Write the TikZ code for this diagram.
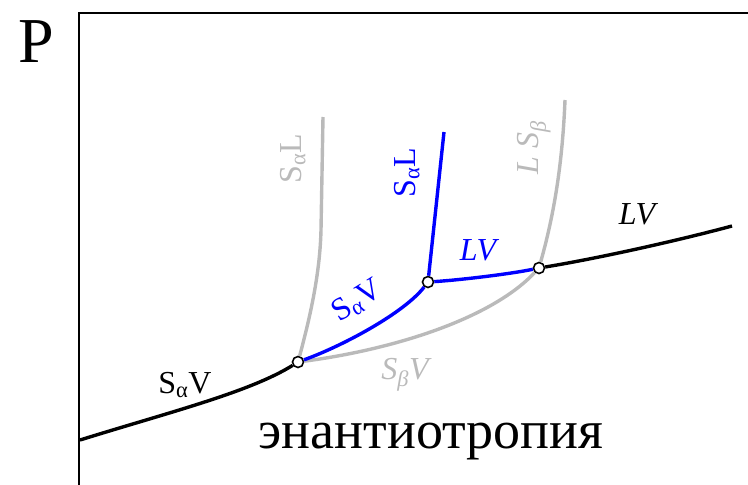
\documentclass[tikz,border=0pt]{standalone}
\usepackage{fontspec}
\setmainfont{Liberation Serif}
\begin{document}
\begin{tikzpicture}[x=1pt,y=-1pt,
  tp/.style={circle,draw,fill=white,line width=1.6pt,inner sep=0pt,minimum size=11pt},
  curve/.style={line width=3.4pt},
  lab/.style={font=\fontsize{32}{36}\selectfont,inner sep=0pt}]
\useasboundingbox (0,0) rectangle (748,485);
\draw[line width=2.4pt] (748,13) -| (79,485);
\node[tp] (A) at (298,362) {};
\node[tp] (B) at (428,282) {};
\node[tp] (C) at (539,268) {};
\coordinate (left) at (80,440);
\coordinate (right) at (732,226);
\coordinate (topsa) at (323,117);
\coordinate (topsb) at (444,132);
\coordinate (toplb) at (565,100);
\draw[curve,black!27] (A) .. controls (312,310) and (320,270) .. (321,230) -- (topsa);
\draw[curve,black!27] (A) .. controls (390,350) and (490,320) .. (C);
\draw[curve,black!27] (C) .. controls (551,225) and (562,175) .. (toplb);
\draw[curve] (left) .. controls (170,412) and (250,392) .. (A);
\draw[curve] (C) .. controls (600,258) and (680,240) .. (right);
\draw[curve,blue] (A) .. controls (345,345) and (405,312) .. (B);
\draw[curve,blue] (B) -- (topsb);
\draw[curve,blue] (B) .. controls (460,280) and (510,274) .. (C);
\node[font=\fontsize{64}{64}\selectfont] (p) at (36,42) {P};
\node[lab,black!27,rotate=90] (lsal) at (293,159) {S\textsubscript{α}L};
\node[lab,blue,rotate=90] (lsal2) at (407,173) {S\textsubscript{α}L};
\node[lab,black!27,rotate=90,font=\fontsize{32}{36}\selectfont\itshape] (llsb) at (534,148) {L S\textsubscript{β}};
\node[lab,font=\fontsize{32}{36}\selectfont\itshape] (llv) at (637,214) {LV};
\node[lab,blue,font=\fontsize{32}{36}\selectfont\itshape] (llv2) at (478,250) {LV};
\node[lab,blue,rotate=32] (lsav2) at (357,301) {S\textsubscript{α}V};
\node[lab,black!27,font=\fontsize{32}{36}\selectfont\itshape] (lsbv) at (405,375) {S\textsubscript{β}V};
\node[lab] (lsav) at (185,385) {S\textsubscript{α}V};
\node[font=\fontsize{54}{54}\selectfont] (title) at (431,442) {энантиотропия};
\end{tikzpicture}
\end{document}
